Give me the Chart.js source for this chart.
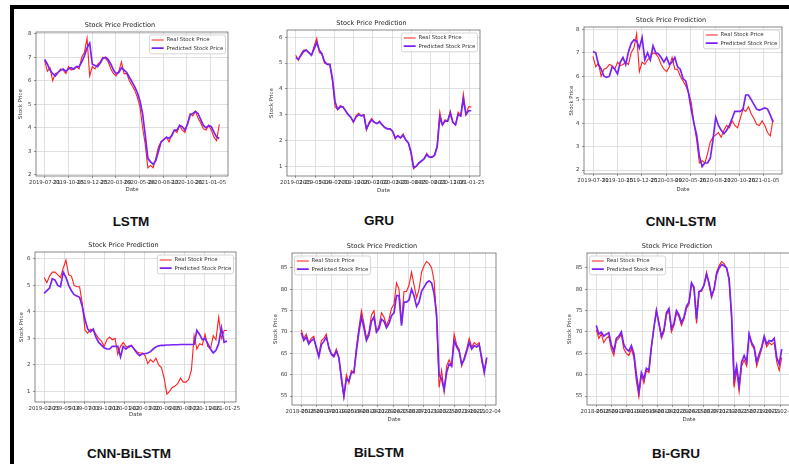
<!DOCTYPE html>
<html><head><meta charset="utf-8">
<script src="https://cdn.jsdelivr.net/npm/chart.js@4.4.0/dist/chart.umd.min.js"></script>
<style>
html,body{margin:0;padding:0;background:#fff;width:789px;height:464px;overflow:hidden;position:relative;}
.frame{position:absolute;left:10px;top:5px;width:900px;height:600px;border-left:4px solid #000;border-top:4px solid #000;}
.cv{position:absolute;}
.lab{position:absolute;font-family:"Liberation Sans",Arial,sans-serif;font-weight:bold;font-size:13.5px;color:#111;transform:translate(-50%,-50%);white-space:nowrap;}
</style></head><body>
<div class="frame"></div>
<div class="lab" style="left:131px;top:221px">LSTM</div>
<div class="lab" style="left:379px;top:220px">GRU</div>
<div class="lab" style="left:681px;top:221px">CNN-LSTM</div>
<div class="lab" style="left:129px;top:453px">CNN-BiLSTM</div>
<div class="lab" style="left:379px;top:452px">BiLSTM</div>
<div class="lab" style="left:676px;top:453px">Bi-GRU</div>
<script>
// ---------- data ----------
const lstmDates = ['2019-07-31','2019-10-15','2019-12-25','2020-03-09','2020-05-26','2020-08-13','2020-10-26','2021-01-05'];
const gruDates = ['2019-02-25','2019-05-14','2019-07-31','2019-10-16','2020-01-02','2020-03-20','2020-06-05','2020-08-21','2020-11-06','2021-01-25'];
const biDates = ['2018-05-25','2018-09-17','2019-01-10','2019-05-06','2019-08-28','2019-12-20','2020-04-15','2020-08-07','2020-11-30','2021-03-25','2021-07-19','2021-10-11','2022-02-04'];

const stockAReal = [6.85, 6.4, 6.55, 6.0, 6.3, 6.35, 6.5, 6.45, 6.3, 6.6,
 6.45, 6.5, 6.6, 6.5, 7.0, 7.2, 7.8, 6.2, 6.6, 6.5,
 6.7, 6.8, 7.0, 6.95, 6.8, 6.5, 6.3, 6.2, 6.4, 6.8,
 6.3, 6.3, 6.0, 5.8, 5.6, 5.3, 4.9, 4.0, 3.3, 2.3,
 2.4, 2.3, 2.7, 3.2, 3.4, 3.5, 3.6, 3.4, 3.7, 3.9,
 3.8, 4.1, 3.9, 3.8, 4.2, 4.6, 4.5, 4.7, 4.4, 4.2,
 3.95, 3.9, 4.1, 3.9, 3.6, 3.45, 4.15];
const lstmPred = [6.9, 6.7, 6.45, 6.3, 6.2, 6.35, 6.45, 6.5, 6.4, 6.5,
 6.55, 6.5, 6.6, 6.6, 6.8, 7.05, 7.4, 7.6, 6.7, 6.65,
 6.6, 6.75, 6.95, 7.0, 6.9, 6.7, 6.45, 6.3, 6.35, 6.55,
 6.45, 6.35, 6.15, 5.95, 5.75, 5.5, 5.15, 4.6, 3.7, 2.7,
 2.55, 2.45, 2.6, 3.0, 3.4, 3.5, 3.6, 3.55, 3.65, 3.9,
 3.9, 4.1, 4.05, 3.9, 4.15, 4.55, 4.6, 4.7, 4.6, 4.35,
 4.1, 4.0, 4.1, 4.05, 3.8, 3.6, 3.55];
const cnnLstmPred = [7.05, 7.0, 6.5, 6.3, 6.0, 5.95, 6.0, 6.4, 6.3, 6.1,
 6.6, 6.8, 6.5, 7.05, 7.4, 7.55, 7.5, 7.2, 7.65, 6.7,
 7.0, 6.7, 7.3, 7.0, 6.95, 6.8, 6.6, 6.8, 6.5, 6.6,
 6.8, 6.4, 6.3, 5.9, 5.8, 5.3, 4.6, 4.0, 3.5, 2.6,
 2.15, 2.3, 2.3, 2.5, 3.3, 4.25, 3.9, 3.7, 3.55, 3.7,
 3.9, 4.2, 4.5, 4.5, 4.5, 4.6, 5.2, 5.2, 5.0, 4.8,
 4.6, 4.55, 4.6, 4.65, 4.6, 4.35, 4.05];

const stockBReal = [5.3, 5.1, 5.35, 5.5, 5.5, 5.4, 5.3, 5.65, 5.95, 5.4,
 5.35, 5.0, 4.95, 4.95, 4.3, 3.3, 3.2, 3.35, 3.3, 3.15,
 3.0, 2.9, 2.7, 2.95, 3.05, 2.95, 3.0, 2.4, 2.7, 2.85,
 2.7, 2.65, 2.75, 2.6, 2.5, 2.45, 2.45, 2.35, 2.05, 2.2,
 2.1, 2.25, 2.0, 1.9, 1.5, 0.9, 1.0, 1.15, 1.2, 1.3,
 1.5, 1.35, 1.35, 1.45, 1.8, 3.1, 2.6, 2.8, 2.75, 3.15,
 2.7, 2.6, 3.1, 2.95, 3.8, 3.0, 3.3, 3.3];
const gruPred = [5.2, 5.15, 5.3, 5.45, 5.5, 5.4, 5.3, 5.55, 5.8, 5.5,
 5.35, 5.05, 4.95, 4.95, 4.4, 3.5, 3.2, 3.3, 3.3, 3.15,
 3.0, 2.9, 2.72, 2.9, 3.0, 2.95, 2.98, 2.45, 2.65, 2.8,
 2.7, 2.65, 2.72, 2.6, 2.5, 2.45, 2.45, 2.35, 2.1, 2.18,
 2.1, 2.2, 2.02, 1.9, 1.55, 0.95, 1.0, 1.12, 1.2, 1.28,
 1.45, 1.35, 1.35, 1.42, 1.75, 2.9, 2.6, 2.75, 2.75, 3.05,
 2.7, 2.6, 3.0, 2.95, 3.6, 3.0, 3.15, 3.15];
const cnnBiLstmPred = [4.7, 4.8, 4.9, 5.25, 5.2, 5.0, 4.95, 5.5, 5.3, 5.0,
 4.8, 4.65, 4.6, 4.55, 4.2, 3.7, 3.35, 3.25, 3.35, 3.05,
 2.85, 2.75, 2.65, 2.6, 2.6, 2.7, 2.7, 2.7, 2.3, 2.7,
 2.6, 2.7, 2.72, 2.6, 2.45, 2.35, 2.42, 2.42, 2.45, 2.5,
 2.6, 2.68, 2.72, 2.74, 2.74, 2.75, 2.75, 2.76, 2.76, 2.76,
 2.77, 2.77, 2.77, 2.77, 2.77, 2.78, 3.3, 3.15, 2.95, 3.0,
 2.8, 2.6, 2.45, 2.55, 2.8, 3.4, 2.85, 2.9];

const stockCReal = [70.5, 68.5, 69.5, 67.5, 68.5, 69.0, 66.0, 64.5, 68.0, 68.5,
 69.5, 66.0, 65.0, 64.5, 66.0, 64.0, 58.5, 54.8, 60.0, 58.0,
 61.0, 60.5, 66.5, 71.0, 75.0, 72.0, 68.5, 70.0, 74.0, 75.0,
 70.0, 71.5, 74.5, 73.5, 71.5, 73.0, 75.5, 76.5, 81.5, 80.0,
 72.0, 79.5, 79.5, 81.0, 84.0, 81.0, 78.0, 80.0, 84.0, 85.5,
 86.5, 86.0, 85.0, 82.0, 73.0, 57.0, 61.0, 56.0, 62.0, 63.5,
 62.0, 69.5, 67.0, 66.0, 62.0, 64.0, 66.0, 68.5, 66.5, 67.5,
 67.0, 67.5, 63.0, 61.0, 64.0];
const biLstmPred = [69.8, 68.0, 68.8, 67.2, 68.0, 68.4, 66.5, 64.2, 67.0, 67.8,
 68.8, 66.5, 64.8, 64.2, 65.5, 64.0, 59.5, 55.0, 59.0, 58.5,
 60.5, 60.5, 65.5, 70.0, 73.5, 71.0, 68.0, 69.3, 72.5, 73.5,
 70.0, 70.8, 73.0, 72.5, 71.0, 72.0, 73.8, 74.5, 78.5, 78.5,
 71.5, 77.0, 77.0, 77.5, 80.0, 78.5, 76.0, 77.0, 79.5, 80.5,
 81.5, 82.0, 81.5, 79.0, 74.0, 60.0, 59.0, 56.5, 60.5, 62.5,
 62.0, 68.0, 66.5, 65.5, 62.5, 63.5, 65.5, 67.5, 66.0, 66.8,
 66.5, 67.0, 64.0, 60.5, 64.0];
const biGruPred = [71.5, 69.5, 70.0, 69.0, 69.5, 69.8, 67.0, 65.5, 68.5, 69.0,
 70.0, 67.0, 66.0, 65.5, 66.8, 65.0, 60.0, 56.0, 60.5, 59.0,
 61.5, 61.0, 66.5, 71.0, 75.0, 72.0, 69.0, 70.5, 74.5, 75.5,
 70.8, 72.0, 75.0, 74.0, 72.2, 73.5, 76.0, 77.0, 81.5, 80.5,
 73.0, 79.5, 79.8, 81.0, 83.5, 81.5, 78.5, 80.0, 83.5, 85.0,
 85.8, 85.5, 85.0, 82.5, 74.0, 59.0, 62.0, 57.5, 63.0, 64.5,
 63.0, 69.5, 67.5, 66.5, 63.0, 64.8, 66.5, 69.0, 67.2, 68.0,
 67.8, 68.5, 64.0, 62.5, 66.0];

const ticksA = [2, 3, 4, 5, 6, 7, 8];
const ticksB = [1, 2, 3, 4, 5, 6];
const ticksC = [55, 60, 65, 70, 75, 80, 85];

// ---------- rendering ----------
const FONT = 'DejaVu Sans';
const YW = 24, TH = 12, XH = 20, PR = 24;
const LEG_FS = 5.4, LEG_PAD = 2.8;

function drawLegendFrame(chart, lg) {
  const ctx = chart.ctx;
  ctx.save();
  ctx.beginPath();
  if (ctx.roundRect) ctx.roundRect(lg.left + 0.5, lg.top + 0.5, lg.width - 1, lg.height - 1, 2);
  else ctx.rect(lg.left + 0.5, lg.top + 0.5, lg.width - 1, lg.height - 1);
  ctx.fillStyle = 'rgba(255,255,255,0.85)';
  ctx.fill();
  ctx.strokeStyle = '#cccccc';
  ctx.lineWidth = 0.8;
  ctx.stroke();
  ctx.restore();
}

const insideLegend = {
  id: 'insideLegend',
  beforeLayout(chart) {
    const lg = chart.legend;
    if (!lg || lg._ilPatched) return;
    lg._ilPatched = true;
    const fit0 = lg.fit;
    lg.fit = function () { fit0.call(this); this.width = 0; this.height = 0; };
    lg._layers = function () {
      return [{ z: 5, draw: (ca) => { drawLegendFrame(chart, lg); lg.draw(ca); } }];
    };
  },
  afterLayout(chart, args, opts) {
    const lg = chart.legend, ca = chart.chartArea;
    const colW = (lg.columnSizes && lg.columnSizes[0]) ? lg.columnSizes[0].width : 72;
    const w = LEG_PAD + colW + LEG_PAD;
    const h = 3 * LEG_PAD + 2 * LEG_FS + 0.6;
    lg.left = opts.side === 'left' ? ca.left + 2 : ca.right - 2 - w;
    lg.top = ca.top + 2.5;
    lg.width = w; lg.height = h;
    lg.right = lg.left + w; lg.bottom = lg.top + h;
  }
};

const axesFrame = {
  id: 'axesFrame',
  afterDatasetsDraw(chart) {
    const { ctx, chartArea: a } = chart;
    ctx.save();
    ctx.strokeStyle = '#555';
    ctx.lineWidth = 0.7;
    ctx.strokeRect(a.left, a.top, a.right - a.left, a.bottom - a.top);
    ctx.restore();
  }
};

function makeChart(p) {
  const cv = document.createElement('canvas');
  const w = Math.round(YW + (p.R - p.L) + PR), h = Math.round(TH + (p.B - p.T) + XH);
  cv.width = w; cv.height = h;
  cv.className = 'cv';
  cv.style.left = (p.L - YW) + 'px';
  cv.style.top = (p.T - TH) + 'px';
  cv.style.width = w + 'px';
  cv.style.height = h + 'px';
  document.body.appendChild(cv);
  const n = p.real.length;
  const toXY = arr => arr.map((v, i) => ({ x: i, y: v }));
  const tickFont = { family: FONT, size: 5.4 };
  const grid = { color: '#d3d3d3', lineWidth: 0.7, tickLength: 2, tickColor: '#555', tickWidth: 0.6 };
  new Chart(cv, {
    type: 'line',
    data: {
      datasets: [
        { label: 'Real Stock Price', data: toXY(p.real), borderColor: '#ff1f1f', backgroundColor: '#ff1f1f', borderWidth: 1.1, pointRadius: 0, tension: 0, order: 1 },
        { label: 'Predicted Stock Price', data: toXY(p.pred), borderColor: '#7a22f2', backgroundColor: '#7a22f2', borderWidth: 1.7, pointRadius: 0, tension: 0, order: 0 }
      ]
    },
    options: {
      responsive: false, animation: false, devicePixelRatio: 1,
      layout: { padding: { left: 0, top: 0, right: PR, bottom: 0 } },
      scales: {
        x: {
          type: 'linear', min: -0.05 * (n - 1), max: 1.05 * (n - 1),
          afterBuildTicks: s => { s.ticks = p.dates.map((d, k) => ({ value: k * p.step })); },
          afterFit: s => { s.height = XH; s.paddingLeft = 0; s.paddingRight = 0; },
          ticks: { autoSkip: false, maxRotation: 0, minRotation: 0, padding: 1, font: tickFont, color: '#333',
                   callback: (v, i) => p.dates[i] },
          grid: grid,
          border: { display: false },
          title: { display: true, text: 'Date', font: tickFont, color: '#333',
                   padding: { top: 0, bottom: XH - p.xlab - 3.24 } }
        },
        y: {
          type: 'linear', min: p.ymin, max: p.ymax,
          afterBuildTicks: s => { s.ticks = p.yticks.map(v => ({ value: v })); },
          afterFit: s => { s.width = YW; s.paddingTop = 0; s.paddingBottom = 0; },
          ticks: { padding: 2.5, font: tickFont, color: '#333' },
          grid: grid,
          border: { display: false },
          title: { display: true, text: 'Stock Price', font: tickFont, color: '#333',
                   padding: { top: YW - p.ylab - 3.24, bottom: 0 } }
        }
      },
      plugins: {
        title: { display: true, text: 'Stock Price Prediction', font: { family: FONT, size: 6.5, weight: 'normal' },
                 color: '#222', padding: { top: 1.6, bottom: 2.6 } },
        legend: {
          display: true, position: 'right', align: 'start',
          labels: { usePointStyle: true, pointStyle: 'line', pointStyleWidth: 12, boxHeight: LEG_FS,
                    padding: LEG_PAD, font: { family: FONT, size: LEG_FS }, color: '#333',
                    sort: (a, b) => a.datasetIndex - b.datasetIndex }
        },
        tooltip: { enabled: false },
        insideLegend: { side: p.legSide }
      }
    },
    plugins: [insideLegend, axesFrame]
  });
}

makeChart({ L: 36, T: 32, R: 228, B: 176, ymin: 1.95, ymax: 8.07, yticks: ticksA, dates: lstmDates, step: 8.95,
            ylab: 15.3, xlab: 14, legSide: 'right', real: stockAReal, pred: lstmPred });
makeChart({ L: 287, T: 30, R: 480, B: 176, ymin: 0.62, ymax: 6.28, yticks: ticksB, dates: gruDates, step: 7.35,
            ylab: 15.3, xlab: 14.3, legSide: 'right', real: stockBReal, pred: gruPred });
makeChart({ L: 584, T: 27, R: 782, B: 174, ymin: 1.83, ymax: 8.1, yticks: ticksA, dates: lstmDates, step: 8.95,
            ylab: 12.3, xlab: 15.3, legSide: 'right', real: stockAReal, pred: cnnLstmPred });
makeChart({ L: 35, T: 252, R: 236, B: 402, ymin: 0.6, ymax: 6.26, yticks: ticksB, dates: gruDates, step: 7.35,
            ylab: 13.3, xlab: 12.7, legSide: 'right', real: stockBReal, pred: cnnBiLstmPred });
makeChart({ L: 292, T: 253, R: 496, B: 405, ymin: 52.9, ymax: 88.5, yticks: ticksC, dates: biDates, step: 6.12,
            ylab: 16.7, xlab: 15, legSide: 'left', real: stockCReal, pred: biLstmPred });
makeChart({ L: 587, T: 253, R: 791, B: 405, ymin: 52.9, ymax: 88.5, yticks: ticksC, dates: biDates, step: 6.12,
            ylab: 17.3, xlab: 15, legSide: 'left', real: stockCReal, pred: biGruPred });
</script>
</body></html>
